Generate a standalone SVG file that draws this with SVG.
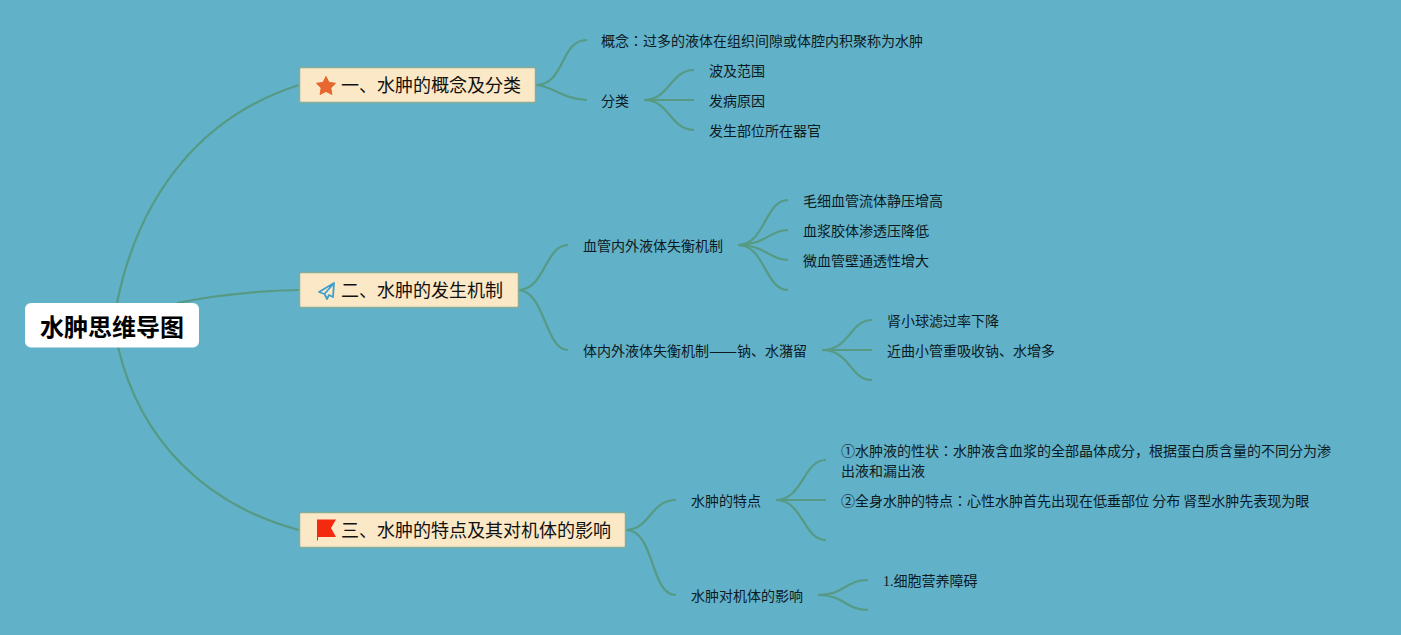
<svg xmlns="http://www.w3.org/2000/svg" width="1401" height="635" viewBox="0 0 1401 635">
<style>
text{font-family:"Noto Sans CJK JP","Noto Sans CJK SC","Liberation Sans",sans-serif;fill:#0d1a1f;font-size:14px}
.t{font-size:18px;fill:#111}
.s{font-family:"Liberation Serif",serif}
.b{fill:#fbe8c6;stroke:#86ad98;stroke-width:1.500}
.c{fill:none;stroke:#569a84;stroke-width:2.200}
</style>
<rect width="1401" height="635" fill="#61b1c8"/>
<g id="connectors" class="c">
<path d="M117 303C140 190 205 115 299 85"/>
<path d="M177 303C215 295 250 291 299 290"/>
<path d="M118 347C140 440 205 505 299 530"/>
<path d="M536 85C565 85 560 40 587 40"/>
<path d="M536 85C550 85 565 100 587 100"/>
<path d="M644 100C670 100 670 70 694 70"/>
<path d="M644 100H694"/>
<path d="M644 100C670 100 670 130 694 130"/>
<path d="M518 290C545 290 545 245 568 245"/>
<path d="M518 290C545 290 545 350 568 350"/>
<path d="M738 245C765 245 765 200 788 200"/>
<path d="M738 245C765 245 770 230 788 230"/>
<path d="M738 245C765 245 770 260 788 260"/>
<path d="M738 245C765 245 765 290 788 290"/>
<path d="M822 350C850 350 850 320 872 320"/>
<path d="M822 350H872"/>
<path d="M822 350C850 350 850 380 872 380"/>
<path d="M626 530C650 530 650 500 676 500"/>
<path d="M626 530C655 530 650 595 676 595"/>
<path d="M776 500C803 500 803 460 826 460"/>
<path d="M776 500H826"/>
<path d="M776 500C803 500 803 540 826 540"/>
<path d="M818 595C845 595 845 580 868 580"/>
<path d="M818 595C845 595 845 610 868 610"/>
</g>
<g id="root"><rect x="25" y="303" width="174" height="44.500" rx="6" fill="#fff"/><text x="40" y="336" style="font-size:24px;font-weight:700;fill:#000">水肿思维导图</text></g>
<g id="n1"><rect class="b" x="299.500" y="67.500" width="236" height="35" rx="1.500"/>
<polygon points="326,76.500 329,82.400 335.500,83.300 330.800,87.900 331.900,94.500 326,91.400 320.100,94.500 321.200,87.900 316.500,83.300 323,82.400" fill="#e8662f" stroke="#e8662f" stroke-linejoin="round"/>
<text class="t" x="341" y="92">一、水肿的概念及分类</text></g>
<g id="n2"><rect class="b" x="299.500" y="272.500" width="219" height="35" rx="1.500"/>
<path d="M334 283L319 292L324.500 294L327 299L329 295L333 297ZM334 283L324.500 294" fill="none" stroke="#3d9fd0" stroke-width="1.800" stroke-linejoin="round"/>
<text class="t" x="341" y="297">二、水肿的发生机制</text></g>
<g id="n3"><rect class="b" x="299.500" y="512.500" width="326" height="35" rx="1.500"/>
<path d="M317 519.500H336L331 528L336 537H318V540.500H317Z" fill="#f42a0f"/>
<text class="t" x="341" y="537">三、水肿的特点及其对机体的影响</text></g>
<g id="a1"><text x="601" y="46">概念：过多的液体在组织间隙或体腔内积聚称为水肿</text></g>
<g id="a2"><text x="601" y="106">分类</text></g>
<g id="a3"><text x="709" y="76">波及范围</text></g>
<g id="a4"><text x="709" y="106">发病原因</text></g>
<g id="a5"><text x="709" y="136">发生部位所在器官</text></g>
<g id="b1"><text x="583" y="251">血管内外液体失衡机制</text></g>
<g id="b2"><text x="803" y="206">毛细血管流体静压增高</text></g>
<g id="b3"><text x="803" y="236">血浆胶体渗透压降低</text></g>
<g id="b4"><text x="803" y="266">微血管壁通透性增大</text></g>
<g id="b5"><text y="356"><tspan x="583">体内外液体失衡机制</tspan><tspan x="709" textLength="28" lengthAdjust="spacingAndGlyphs">——</tspan><tspan x="737">钠、水潴留</tspan></text></g>
<g id="b6"><text x="887" y="326">肾小球滤过率下降</text></g>
<g id="b7"><text x="887" y="356">近曲小管重吸收钠、水增多</text></g>
<g id="c1"><text x="691" y="506">水肿的特点</text></g>
<g id="c2"><text x="841" y="456">①水肿液的性状：水肿液含血浆的全部晶体成分，根据蛋白质含量的不同分为渗</text><text x="841" y="476">出液和漏出液</text></g>
<g id="c3"><text x="841" y="506">②全身水肿的特点：心性水肿首先出现在低垂部位 分布 肾型水肿先表现为眼</text></g>
<g id="c4"><text x="691" y="601">水肿对机体的影响</text></g>
<g id="c5"><text x="883" y="586"><tspan class="s">1.</tspan>细胞营养障碍</text></g>
</svg>
